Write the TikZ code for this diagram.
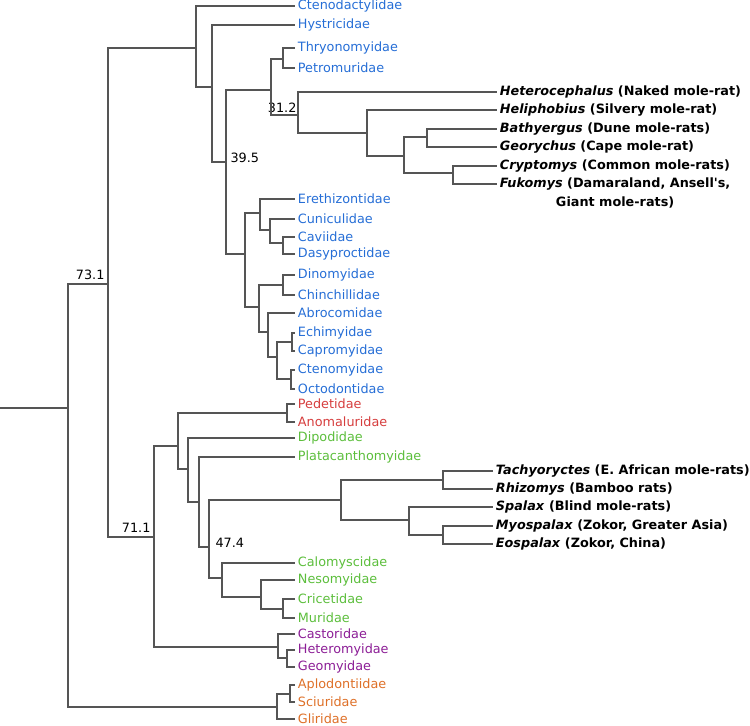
\documentclass[tikz,border=0pt]{standalone}
\usepackage{fontspec}
\setmainfont{DejaVu Sans}
\setsansfont{DejaVu Sans}
\usetikzlibrary{positioning}
\definecolor{hystblue}{RGB}{38,110,214}
\definecolor{anomred}{RGB}{214,62,62}
\definecolor{myogreen}{RGB}{92,190,60}
\definecolor{castpurple}{RGB}{140,30,150}
\definecolor{sciorange}{RGB}{222,112,40}
\definecolor{treegray}{RGB}{85,85,85}
\newcommand{\famsize}{\fontsize{9.6}{11}\selectfont}
\tikzset{
x=0.75pt, y=-0.75pt, % one unit is one pixel of the figure, y runs down
branch/.style={draw=treegray, line width=0.9pt}, % the lines of the tree
fam/.style={anchor=west, inner xsep=2pt, inner ysep=1pt, font=\famsize}, % family at a tip
mole/.style={fam, font=\famsize\bfseries}, % mole-rat genus at a tip
age/.style={inner sep=1pt, font=\famsize}, % age of a node, in Myr
}

\begin{document}
\begin{tikzpicture}
        \useasboundingbox (0,0) rectangle (750,725);

        % inner nodes of the tree
        \coordinate (base) at (0,408);
        \coordinate (root) at (68,408);
        \coordinate (n73) at (108,284);
        \coordinate (a) at (196,48);
        \coordinate (b) at (212,87);
        \coordinate (c) at (226,162);
        \coordinate (d) at (271,90);
        \coordinate (e) at (283,59);
        \coordinate (f) at (298,115);
        \coordinate (g) at (367,133);
        \coordinate (h) at (404,156);
        \coordinate (i) at (427,137);
        \coordinate (j) at (453,173);
        \coordinate (k) at (245,254);
        \coordinate (l) at (260,213);
        \coordinate (m) at (270,230);
        \coordinate (n) at (283,243);
        \coordinate (o) at (259,307);
        \coordinate (p) at (283,285);
        \coordinate (q) at (268,332);
        \coordinate (r) at (277,357);
        \coordinate (s) at (292,342);
        \coordinate (t) at (291,379);
        \coordinate (n71) at (154,537);
        \coordinate (w) at (178,446);
        \coordinate (x) at (287,413);
        \coordinate (y) at (188,469);
        \coordinate (z) at (199,502);
        \coordinate (aa) at (209,547);
        \coordinate (bb) at (341,500);
        \coordinate (cc) at (443,480);
        \coordinate (dd) at (409,520);
        \coordinate (ee) at (443,535);
        \coordinate (ff) at (222,578);
        \coordinate (gg) at (261,597);
        \coordinate (hh) at (283,609);
        \coordinate (ii) at (278,647);
        \coordinate (jj) at (287,658);
        \coordinate (u) at (277,707);
        \coordinate (v) at (290,694);

        % tips
        \node[fam, text=hystblue] (cteno) at (295,6) {Ctenodactylidae};
        \node[fam, text=hystblue] (hystr) at (295,25) {Hystricidae};
        \node[fam, text=hystblue] (thryo) at (295,48) {Thryonomyidae};
        \node[fam, text=hystblue] (petro) at (295,68) {Petromuridae};
        \node[mole] (hete) at (497,92) {\textit{Heterocephalus} (Naked mole-rat)};
        \node[mole] (heli) at (497,110) {\textit{Heliphobius} (Silvery mole-rat)};
        \node[mole] (bath) at (497,129) {\textit{Bathyergus} (Dune mole-rats)};
        \node[mole] (geor) at (497,147) {\textit{Georychus} (Cape mole-rat)};
        \node[mole] (cryp) at (497,166) {\textit{Cryptomys} (Common mole-rats)};
        \node[mole] (fuko) at (497,184) {\textit{Fukomys} (Damaraland, Ansell\textquotesingle s,};
        \node[mole, anchor=north, below=2.5pt of fuko] (fuko2) {Giant mole-rats)};
        \node[fam, text=hystblue] (ereth) at (295,199) {Erethizontidae};
        \node[fam, text=hystblue] (cunic) at (295,219) {Cuniculidae};
        \node[fam, text=hystblue] (cavii) at (295,237) {Caviidae};
        \node[fam, text=hystblue] (dasyp) at (295,254) {Dasyproctidae};
        \node[fam, text=hystblue] (dinom) at (295,275) {Dinomyidae};
        \node[fam, text=hystblue] (chinc) at (295,295) {Chinchillidae};
        \node[fam, text=hystblue] (abroc) at (295,313) {Abrocomidae};
        \node[fam, text=hystblue] (echim) at (295,333) {Echimyidae};
        \node[fam, text=hystblue] (caprom) at (295,351) {Capromyidae};
        \node[fam, text=hystblue] (cteny) at (295,370) {Ctenomyidae};
        \node[fam, text=hystblue] (octod) at (295,389) {Octodontidae};
        \node[fam, text=anomred] (pedet) at (295,404) {Pedetidae};
        \node[fam, text=anomred] (anoma) at (295,422) {Anomaluridae};
        \node[fam, text=myogreen] (dipod) at (295,438) {Dipodidae};
        \node[fam, text=myogreen] (plata) at (295,457) {Platacanthomyidae};
        \node[mole] (tach) at (493,471) {\textit{Tachyoryctes} (E. African mole-rats)};
        \node[mole] (rhiz) at (493,489) {\textit{Rhizomys} (Bamboo rats)};
        \node[mole] (spal) at (493,507) {\textit{Spalax} (Blind mole-rats)};
        \node[mole] (myos) at (493,526) {\textit{Myospalax} (Zokor, Greater Asia)};
        \node[mole] (eosp) at (493,544) {\textit{Eospalax} (Zokor, China)};
        \node[fam, text=myogreen] (calom) at (295,563) {Calomyscidae};
        \node[fam, text=myogreen] (nesom) at (295,580) {Nesomyidae};
        \node[fam, text=myogreen] (crice) at (295,599) {Cricetidae};
        \node[fam, text=myogreen] (murid) at (295,618) {Muridae};
        \node[fam, text=castpurple] (casto) at (295,634) {Castoridae};
        \node[fam, text=castpurple] (heter) at (295,650) {Heteromyidae};
        \node[fam, text=castpurple] (geomy) at (295,667) {Geomyidae};
        \node[fam, text=sciorange] (aplod) at (295,685) {Aplodontiidae};
        \node[fam, text=sciorange] (sciur) at (295,702) {Sciuridae};
        \node[fam, text=sciorange] (glir) at (295,719) {Gliridae};

        % ages
        \node[age, anchor=south east] (age73) at ([shift={(-2,-3)}]n73) {73.1};
        \node[age, anchor=south east] (age71) at ([shift={(-2,-3)}]n71) {71.1};
        \node[age, anchor=south east] (age31) at ([shift={(0,-1)}]f) {31.2};
        \node[age, anchor=west] (age39) at ([shift={(3,-4)}]c) {39.5};
        \node[age, anchor=west] (age47) at ([shift={(5,-4)}]aa) {47.4};

        % branches
        \draw[branch] (base) -- (root);
        \draw[branch] (root) |- (n73) (root) |- (u);
        \draw[branch] (n73) |- (a) (n73) |- (n71);
        \draw[branch] (a) |- (cteno) (a) |- (b);
        \draw[branch] (b) |- (hystr) (b) |- (c);
        \draw[branch] (c) |- (d) (c) |- (k);
        \draw[branch] (d) |- (e) (d) |- (f);
        \draw[branch] (e) |- (thryo) (e) |- (petro);
        \draw[branch] (f) |- (hete) (f) |- (g);
        \draw[branch] (g) |- (heli) (g) |- (h);
        \draw[branch] (h) |- (i) (h) |- (j);
        \draw[branch] (i) |- (bath) (i) |- (geor);
        \draw[branch] (j) |- (cryp) (j) |- (fuko);
        \draw[branch] (k) |- (l) (k) |- (o);
        \draw[branch] (l) |- (ereth) (l) |- (m);
        \draw[branch] (m) |- (cunic) (m) |- (n);
        \draw[branch] (n) |- (cavii) (n) |- (dasyp);
        \draw[branch] (o) |- (p) (o) |- (q);
        \draw[branch] (p) |- (dinom) (p) |- (chinc);
        \draw[branch] (q) |- (abroc) (q) |- (r);
        \draw[branch] (r) |- (s) (r) |- (t);
        \draw[branch] (s) |- (echim) (s) |- (caprom);
        \draw[branch] (t) |- (cteny) (t) |- (octod);
        \draw[branch] (n71) |- (w) (n71) |- (ii);
        \draw[branch] (w) |- (x) (w) |- (y);
        \draw[branch] (x) |- (pedet) (x) |- (anoma);
        \draw[branch] (y) |- (dipod) (y) |- (z);
        \draw[branch] (z) |- (plata) (z) |- (aa);
        \draw[branch] (aa) |- (bb) (aa) |- (ff);
        \draw[branch] (bb) |- (cc) (bb) |- (dd);
        \draw[branch] (cc) |- (tach) (cc) |- (rhiz);
        \draw[branch] (dd) |- (spal) (dd) |- (ee);
        \draw[branch] (ee) |- (myos) (ee) |- (eosp);
        \draw[branch] (ff) |- (calom) (ff) |- (gg);
        \draw[branch] (gg) |- (nesom) (gg) |- (hh);
        \draw[branch] (hh) |- (crice) (hh) |- (murid);
        \draw[branch] (ii) |- (casto) (ii) |- (jj);
        \draw[branch] (jj) |- (heter) (jj) |- (geomy);
        \draw[branch] (u) |- (v) (u) |- (glir);
        \draw[branch] (v) |- (aplod) (v) |- (sciur);
      \end{tikzpicture}
\end{document}
